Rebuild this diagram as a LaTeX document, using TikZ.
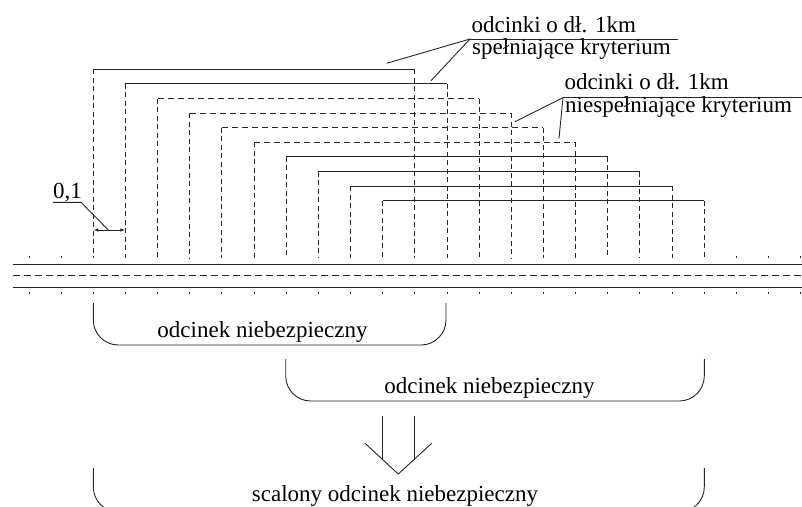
\documentclass[tikz,border=0pt]{standalone}
\usepackage{fontspec}
\setmainfont{Liberation Serif}
\usetikzlibrary{arrows.meta}
\tikzset{dimtip/.tip={Latex[length=5pt,width=3.5pt]}}
\begin{document}
\begin{tikzpicture}[x=1pt,y=-1pt,
  ln/.style={line width=0.9pt, black!85},
  vdash/.style={ln, dash pattern=on 5pt off 3.5pt},
  hdash/.style={ln, dash pattern=on 6pt off 4pt},
  cdash/.style={ln, dash pattern=on 6.5pt off 4.5pt},
  lbl/.style={font=\fontsize{23}{27}\selectfont, inner sep=0pt, anchor=base west},
  clbl/.style={font=\fontsize{23}{27}\selectfont, inner sep=0pt, anchor=base},
  bracketline/.style={ln, rounded corners=25pt},
]
\useasboundingbox (0,0) rectangle (802,506);
% nested 1 km segments
\foreach \i/\st in {0/ln,1/ln,2/hdash,3/hdash,4/hdash,5/hdash,6/ln,7/ln,8/ln,9/ln} {
  \pgfmathsetmacro\xa{93.3+32.15*\i}
  \pgfmathsetmacro\xb{93.3+32.15*(\i+10)}
  \pgfmathsetmacro\yt{69.3+14.6*\i}
  \draw[vdash] (\xa,\yt) -- (\xa,258);
  \draw[vdash] (\xb,\yt) -- (\xb,258);
  \draw[\st] (\xa,\yt) -- (\xb,\yt);
}
% small marks
\foreach \k in {-2,...,22} {
  \pgfmathsetmacro\xk{93.3+32.15*\k}
  \draw[ln] (\xk,292) -- (\xk,293.6);
}
\foreach \k in {-2,-1,20,21,22} {
  \pgfmathsetmacro\xk{93.3+32.15*\k}
  \draw[ln] (\xk,256) -- (\xk,257.6);
}
% road
\draw[ln] (13,264.3) -- (802,264.3);
\draw[cdash] (13,275.7) -- (802,275.7);
\draw[ln] (13,287.7) -- (802,287.7);

% label 1
\node[lbl] (t1a) at (471.5,32) {odcinki o dł. 1km};
\node[lbl] (t1b) at (472,54) {spełniające kryterium};
\coordinate (k1) at (470,39);
\coordinate (k1e) at (678,39);
\coordinate (p1) at (386.7,63.3);
\coordinate (p2) at (431,80.7);
\draw[ln] (k1) -- (k1e);
\draw[ln] (k1) -- (p1);
\draw[ln] (k1) -- (p2);

% label 2
\node[lbl] (t2a) at (564.3,89.5) {odcinki o dł. 1km};
\node[lbl] (t2b) at (565,112.7) {niespełniające kryterium};
\coordinate (k2) at (563,97.7);
\coordinate (k2e) at (802,97.7);
\coordinate (p3) at (515,121.7);
\coordinate (p4) at (559,138.3);
\draw[ln] (k2) -- (k2e);
\draw[ln] (k2) -- (p3);
\draw[ln] (k2) -- (p4);

% dimension 0,1
\node[lbl] (t01) at (53,198.3) {0,1};
\coordinate (u0) at (53,202.3);
\coordinate (u1) at (81,202.3);
\coordinate (d0) at (93.3,230);
\coordinate (d1) at (125.45,230);
\coordinate (dm) at (108.3,230);
\draw[ln] (u0) -- (u1) -- (dm);
\draw[ln, dimtip-dimtip] (d0) -- (d1);

% dangerous sections
\draw[bracketline] (93.3,303) -- (93.3,345) -- (446,345) -- (446,303);
\node[clbl] (na) at (262.5,337) {odcinek niebezpieczny};
\draw[bracketline] (285.7,359) -- (285.7,401) -- (704.3,401) -- (704.3,359);
\node[clbl] (nb) at (489.5,393.3) {odcinek niebezpieczny};

% merge arrow
\coordinate (a1t) at (382.3,416);
\coordinate (a1b) at (382.3,459.5);
\coordinate (a2t) at (414,416);
\coordinate (a2b) at (414,459.5);
\coordinate (cl) at (365,443.3);
\coordinate (ct) at (398.3,474);
\coordinate (cr) at (431.7,443.3);
\draw[ln] (a1t) -- (a1b);
\draw[ln] (a2t) -- (a2b);
\draw[ln] (cl) -- (ct) -- (cr);

% merged section
\begin{scope}
\clip (0,0) rectangle (802,506);
\draw[bracketline] (93.3,468) -- (93.3,512) -- (704.3,512) -- (704.3,468);
\end{scope}
\node[clbl] (nc) at (395,501.7) {scalony odcinek niebezpieczny};
\end{tikzpicture}
\end{document}
